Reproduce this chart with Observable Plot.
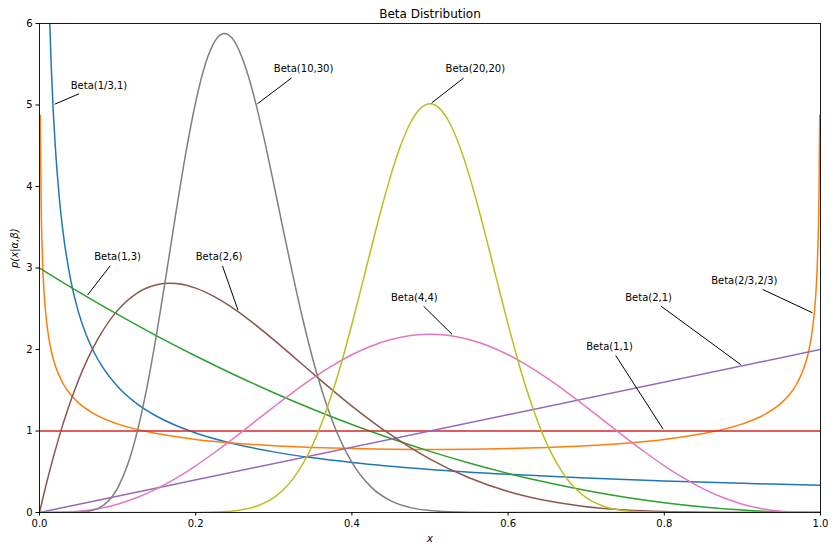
<!DOCTYPE html>
<html><head><meta charset="utf-8">
<script src="https://cdn.jsdelivr.net/npm/d3@7"></script>
<script src="https://cdn.jsdelivr.net/npm/@observablehq/plot@0.6"></script>
<style>body{margin:0;background:#fff}</style>
</head><body><div id="chart"></div>
<script>
// ---- data ----
const xTicks = [0, 0.2, 0.4, 0.6, 0.8, 1.0];
const yTicks = [0, 1, 2, 3, 4, 5, 6];

const blueX = [0.005, 0.01, 0.0125, 0.015, 0.0175, 0.02, 0.025, 0.03, 0.04, 0.05, 0.06, 0.07, 0.08, 0.1, 0.125, 0.15, 0.2, 0.25, 0.3, 0.35, 0.4, 0.5, 0.6, 0.7, 0.8, 0.9, 1.0];
const blueY = [11.40, 7.181, 6.189, 5.481, 4.945, 4.524, 3.899, 3.452, 2.850, 2.456, 2.175, 1.963, 1.795, 1.547, 1.333, 1.181, 0.975, 0.840, 0.744, 0.671, 0.614, 0.529, 0.469, 0.423, 0.387, 0.358, 0.333];

const orangeX = [0.001, 0.002, 0.004, 0.007, 0.01, 0.015, 0.02, 0.03, 0.04, 0.05, 0.07, 0.1, 0.15, 0.2, 0.25, 0.3, 0.35, 0.4, 0.45, 0.5, 0.55, 0.6, 0.65, 0.7, 0.75, 0.8, 0.85, 0.9, 0.93, 0.95, 0.96, 0.97, 0.98, 0.985, 0.99, 0.993, 0.996, 0.998, 0.999];
const orangeY = [4.872, 3.868, 3.072, 2.552, 2.268, 1.985, 1.806, 1.583, 1.444, 1.345, 1.211, 1.087, 0.968, 0.897, 0.851, 0.819, 0.798, 0.784, 0.776, 0.773, 0.776, 0.784, 0.798, 0.819, 0.851, 0.897, 0.968, 1.087, 1.211, 1.345, 1.444, 1.583, 1.806, 1.985, 2.268, 2.552, 3.072, 3.868, 4.872];

const greenX = [0, 0.05, 0.1, 0.15, 0.2, 0.25, 0.3, 0.35, 0.4, 0.45, 0.5, 0.55, 0.6, 0.65, 0.7, 0.75, 0.8, 0.85, 0.9, 0.95, 1.0];
const greenY = [3, 2.7075, 2.43, 2.1675, 1.92, 1.6875, 1.47, 1.2675, 1.08, 0.9075, 0.75, 0.6075, 0.48, 0.3675, 0.27, 0.1875, 0.12, 0.0675, 0.03, 0.0075, 0];

const redX = [0, 1];
const redY = [1, 1];

const purpleX = [0, 1];
const purpleY = [0, 2];

const brownX = [0, 0.01, 0.025, 0.05, 0.075, 0.1, 0.125, 0.15, 0.1667, 0.175, 0.2, 0.225, 0.25, 0.275, 0.3, 0.325, 0.35, 0.375, 0.4, 0.425, 0.45, 0.475, 0.5, 0.55, 0.6, 0.65, 0.7, 0.75, 0.8, 0.85, 0.9, 1];
const brownY = [0, 0.399, 0.925, 1.625, 2.133, 2.480, 2.693, 2.795, 2.813, 2.809, 2.753, 2.642, 2.492, 2.314, 2.118, 1.913, 1.706, 1.502, 1.306, 1.122, 0.951, 0.796, 0.656, 0.426, 0.258, 0.143, 0.071, 0.031, 0.011, 0.003, 0.0004, 0];

const pinkX = [0, 0.025, 0.05, 0.075, 0.1, 0.125, 0.15, 0.175, 0.2, 0.225, 0.25, 0.275, 0.3, 0.325, 0.35, 0.375, 0.4, 0.425, 0.45, 0.475, 0.5, 0.525, 0.55, 0.575, 0.6, 0.625, 0.65, 0.675, 0.7, 0.725, 0.75, 0.775, 0.8, 0.825, 0.85, 0.875, 0.9, 0.925, 0.95, 0.975, 1];
const pinkY = [0, 0.0020, 0.0150, 0.0467, 0.1021, 0.1832, 0.2902, 0.4213, 0.5734, 0.7423, 0.9229, 1.1095, 1.2965, 1.4780, 1.6484, 1.8025, 1.9354, 2.0431, 2.1225, 2.1711, 2.1875, 2.1711, 2.1225, 2.0431, 1.9354, 1.8025, 1.6484, 1.4780, 1.2965, 1.1095, 0.9229, 0.7423, 0.5734, 0.4213, 0.2902, 0.1832, 0.1021, 0.0467, 0.0150, 0.0020, 0];

const grayX = [0, 0.025, 0.05, 0.0625, 0.075, 0.0875, 0.1, 0.1125, 0.125, 0.1375, 0.15, 0.1625, 0.175, 0.1875, 0.2, 0.2125, 0.225, 0.2368, 0.25, 0.2625, 0.275, 0.2875, 0.3, 0.3125, 0.325, 0.3375, 0.35, 0.3625, 0.375, 0.4, 0.425, 0.45, 0.475, 0.5, 0.55, 0.6, 0.7, 1];
const grayY = [0, 0.00001, 0.0028, 0.0142, 0.0498, 0.1343, 0.2995, 0.5762, 0.9857, 1.5312, 2.1941, 2.9344, 3.6968, 4.4176, 5.0369, 5.5052, 5.7907, 5.876, 5.7753, 5.5000, 5.0942, 4.5899, 4.0299, 3.4502, 2.8845, 2.3558, 1.8812, 1.4689, 1.1224, 0.6140, 0.3084, 0.1421, 0.0600, 0.0231, 0.0026, 0.0002, 0, 0];

const oliveX = [0, 0.15, 0.2, 0.225, 0.25, 0.275, 0.3, 0.3125, 0.325, 0.3375, 0.35, 0.3625, 0.375, 0.3875, 0.4, 0.4125, 0.425, 0.4375, 0.45, 0.4625, 0.475, 0.4875, 0.5, 0.5125, 0.525, 0.5375, 0.55, 0.5625, 0.575, 0.5875, 0.6, 0.6125, 0.625, 0.6375, 0.65, 0.6625, 0.675, 0.6875, 0.7, 0.725, 0.75, 0.775, 0.8, 0.85, 1];
const oliveY = [0, 0.00001, 0.0010, 0.0053, 0.0212, 0.0681, 0.1826, 0.2817, 0.4187, 0.6013, 0.8357, 1.1256, 1.4713, 1.8689, 2.3090, 2.7772, 3.2544, 3.7182, 4.1430, 4.5052, 4.7821, 4.9555, 5.0146, 4.9555, 4.7821, 4.5052, 4.1430, 3.7182, 3.2544, 2.7772, 2.3090, 1.8689, 1.4713, 1.1256, 0.8357, 0.6013, 0.4187, 0.2817, 0.1826, 0.0681, 0.0212, 0.0053, 0.0010, 0.00001, 0];

const seriesNames  = ["Beta(1/3,1)", "Beta(2/3,2/3)", "Beta(1,3)", "Beta(1,1)", "Beta(2,1)", "Beta(2,6)", "Beta(4,4)", "Beta(10,30)", "Beta(20,20)"];
const seriesColors = ["#1f77b4", "#ff7f0e", "#2ca02c", "#d62728", "#9467bd", "#8c564b", "#e377c2", "#7f7f7f", "#bcbd22"];
const seriesXs = [blueX, orangeX, greenX, redX, purpleX, brownX, pinkX, grayX, oliveX];
const seriesYs = [blueY, orangeY, greenY, redY, purpleY, brownY, pinkY, grayY, oliveY];

// annotations: label, text anchor (baseline-left), target point
const annLabels = ["Beta(1/3,1)", "Beta(2/3,2/3)", "Beta(1,3)", "Beta(1,1)", "Beta(2,1)", "Beta(2,6)", "Beta(4,4)", "Beta(10,30)", "Beta(20,20)"];
const annTextX  = [0.04, 0.86, 0.07, 0.70, 0.75, 0.20, 0.45, 0.30, 0.52];
const annTextY  = [5.2, 2.8, 3.1, 2.0, 2.6, 3.1, 2.6, 5.4, 5.4];
const annPointX = [0.0172, 0.992, 0.06, 0.80, 0.90, 0.255, 0.53, 0.277, 0.50];
const annPointY = [5.0, 2.44, 2.65, 1.0, 1.8, 2.46, 2.17, 5.0, 5.01];

// ---- layout ----
const W = 834, H = 550;
const ML = 39, MR = 14, MT = 23, MB = 38;
const FONT = "DejaVu Sans";

const xs = Plot.scale({x: {domain: [0, 1], range: [ML, W - MR]}});
const ys = Plot.scale({y: {domain: [0, 6], range: [H - MB, MT]}});

const ctx = document.createElement("canvas").getContext("2d");
ctx.font = `10px "${FONT}"`;

const annRows = annLabels.map((t, i) => ({text: t, x: annTextX[i], y: annTextY[i]}));
const linkRows = annLabels.map((t, i) => {
  const w = ctx.measureText(t).width;
  const tx = xs.apply(annTextX[i]), ty = ys.apply(annTextY[i]);
  const cx = tx + w / 2, cy = ty - 3.5;
  const px = xs.apply(annPointX[i]), py = ys.apply(annPointY[i]);
  const dx = px - cx, dy = py - cy, L = Math.hypot(dx, dy);
  const hw = w / 2 + 2, hh = 7.8;
  const t0 = Math.min(hw / Math.max(Math.abs(dx), 1e-9), hh / Math.max(Math.abs(dy), 1e-9)) + 2 / L;
  const t1 = 1 - 2 / L;
  return {
    x1: xs.invert(cx + dx * t0), y1: ys.invert(cy + dy * t0),
    x2: xs.invert(cx + dx * t1), y2: ys.invert(cy + dy * t1)
  };
});

const lineMarks = seriesNames.map((name, k) =>
  Plot.line(seriesXs[k].map((x, i) => ({x, y: seriesYs[k][i]})), {
    x: "x", y: "y", stroke: seriesColors[k], strokeWidth: 1.5,
    curve: "monotone-x", clip: true
  })
);

const chart = Plot.plot({
  width: W, height: H,
  marginLeft: ML, marginRight: MR, marginTop: MT, marginBottom: MB,
  style: {fontFamily: FONT, fontSize: "10px", color: "black", background: "white"},
  x: {domain: [0, 1]},
  y: {domain: [0, 6]},
  marks: [
    ...lineMarks,
    Plot.frame({stroke: "black", strokeWidth: 0.9}),
    Plot.axisX({ticks: xTicks, tickFormat: d => d.toFixed(1), tickSize: 3.5, tickPadding: 3.5, label: null, fontSize: 10}),
    Plot.axisY({ticks: yTicks, tickFormat: d => String(d), tickSize: 3.5, tickPadding: 3.5, label: null, fontSize: 10}),
    Plot.link(linkRows, {x1: "x1", y1: "y1", x2: "x2", y2: "y2", stroke: "black", strokeWidth: 1}),
    Plot.text(annRows, {x: "x", y: "y", text: "text", textAnchor: "start", lineAnchor: "middle", dy: -3.2, fontSize: 10, fill: "black"}),
    Plot.text(["Beta Distribution"], {frameAnchor: "top", lineAnchor: "middle", dy: -9.8, fontSize: 12, fill: "black"}),
    Plot.text(["x"], {frameAnchor: "bottom", lineAnchor: "middle", dy: 26, fontSize: 10, fontStyle: "italic", fill: "black"}),
    Plot.text(["p(x|α,β)"], {frameAnchor: "left", lineAnchor: "middle", dx: -25, rotate: -90, fontSize: 10, fontStyle: "italic", fill: "black"})
  ]
});
document.getElementById("chart").appendChild(chart);
</script>
</body></html>
